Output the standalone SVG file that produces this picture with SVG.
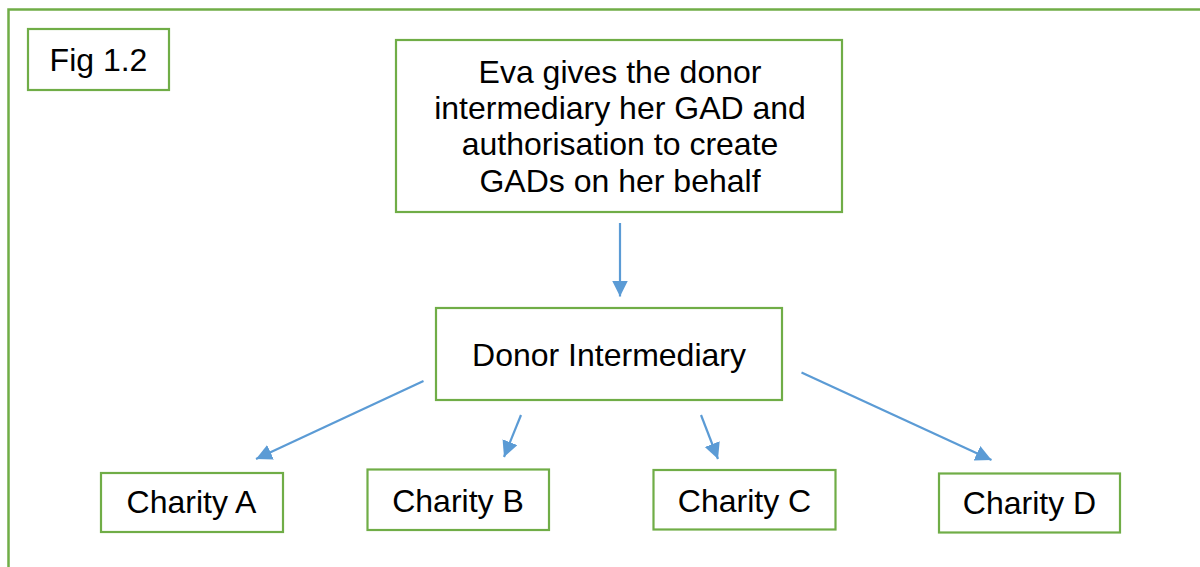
<svg xmlns="http://www.w3.org/2000/svg" width="1200" height="567" viewBox="0 0 1200 567">
<style>
.box{fill:#fff;stroke:#70AD47;stroke-width:2.2}
.t{font-family:"Liberation Sans",Arial,sans-serif;font-size:32px;fill:#000;text-anchor:middle}
.c{stroke:#5B9BD5;stroke-width:2.2;fill:none;marker-end:url(#ah)}
</style>
<defs>
<marker id="ah" markerUnits="userSpaceOnUse" markerWidth="17" markerHeight="17" viewBox="0 0 17 17" refX="16" refY="8" orient="auto">
<path d="M0,0 L16,8 L0,16 z" fill="#5B9BD5"/>
</marker>
</defs>
<rect x="8.5" y="9.5" width="1200" height="600" fill="#fff" stroke="#70AD47" stroke-width="2.5"/>
<g id="fig">
<rect class="box" x="28" y="29" width="141" height="61"/>
<text class="t" x="98.5" y="71">Fig 1.2</text>
</g>
<g id="eva">
<rect class="box" x="396" y="40" width="446" height="172"/>
<text class="t" x="620" y="82.7">Eva gives the donor</text>
<text class="t" x="620" y="119">intermediary her GAD and</text>
<text class="t" x="620" y="155.3">authorisation to create</text>
<text class="t" x="620" y="191.6">GADs on her behalf</text>
</g>
<g id="donor">
<rect class="box" x="436" y="308" width="346" height="92"/>
<text class="t" x="609" y="366">Donor Intermediary</text>
</g>
<g id="charityA">
<rect class="box" x="101" y="473" width="182" height="59"/>
<text class="t" x="191.5" y="513">Charity A</text>
</g>
<g id="charityB">
<rect class="box" x="367.5" y="469.5" width="181.5" height="60.5"/>
<text class="t" x="458" y="511.5">Charity B</text>
</g>
<g id="charityC">
<rect class="box" x="653.5" y="470" width="182" height="59.5"/>
<text class="t" x="744.5" y="511.5">Charity C</text>
</g>
<g id="charityD">
<rect class="box" x="939" y="473.5" width="181" height="59"/>
<text class="t" x="1029.5" y="514">Charity D</text>
</g>
<g id="connectors">
<line class="c" x1="620" y1="223" x2="620" y2="296.5"/>
<line class="c" x1="423.5" y1="381" x2="256" y2="459"/>
<line class="c" x1="521" y1="415" x2="504" y2="457"/>
<line class="c" x1="701" y1="415" x2="718" y2="459"/>
<line class="c" x1="801.5" y1="372.5" x2="991.5" y2="460"/>
</g>
</svg>
